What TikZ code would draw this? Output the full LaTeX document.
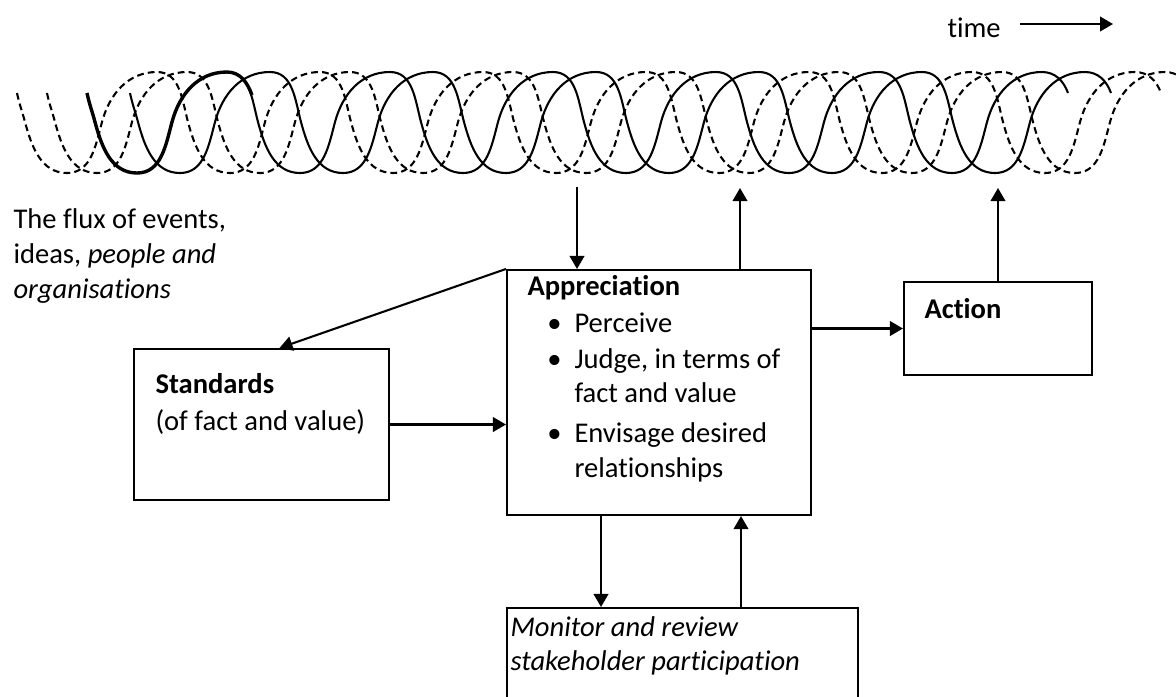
\documentclass[tikz,border=0pt]{standalone}
\usepackage{fontspec}
\setmainfont{Carlito}[Ligatures=NoCommon]
\usepackage{tikz}
\usetikzlibrary{arrows.meta,positioning,fit,calc}

\begin{document}
\begin{tikzpicture}[
  x=0.385pt,y=0.385pt,
  font=\fontsize{11pt}{13.4pt}\selectfont,
  box/.style={draw,line width=0.8pt,inner sep=0pt},
  txt/.style={inner sep=0pt,anchor=base west},
  arr/.style={-{Triangle[length=5pt,width=5.6pt]},line width=0.8pt},
  coil/.style={line width=0.8pt,line join=round},
  dcoil/.style={coil,dash pattern=on 2.6pt off 1.6pt}]

  \useasboundingbox (0,0) rectangle (1176,-696);
  \clip (0,0) rectangle (1176,-696);

  % the flux
  \foreach \bx/\m/\sty in {137/5/coil,180/5/coil,67/6/dcoil,97/6/dcoil}{
    \draw[\sty] ({\bx-50},-93) to[out=-78,in=105] ({\bx-42},-122) to[out=-75,in=180] (\bx,-173)
      foreach \k in {1,...,\m}{
        to[out=0,in=-105] ({\bx+163*\k-128},-122) to[out=75,in=180] ({\bx+163*\k-73},-72)
        to[out=0,in=105] ({\bx+163*\k-42},-122) to[out=-75,in=180] ({\bx+163*\k},-173)}
      to[out=0,in=-105] ({\bx+163*\m+35},-122) to[out=75,in=180] ({\bx+163*\m+90},-72)
      to[out=0,in=110] ({\bx+163*\m+116},-93);
  }
  \draw[coil,line width=1.3pt] (87,-93) to[out=-78,in=105] (95,-122) to[out=-75,in=180] (137,-173)
    to[out=0,in=-105] (172,-122) to[out=75,in=180] (227,-72) to[out=0,in=110] (252,-95);

  \node[txt] (fluxa) at (13,-228) {The flux of events,};
  \node[txt] (fluxb) at (13,-263) {ideas, \textit{people and}};
  \node[txt] (fluxc) at (13,-298) {\textit{organisations}};
  \node[txt] (tm) at (947,-37) {time};

  \node[box,fit={(507,-270) (811,-515)}] (appr) {};
  \node[box,fit={(134,-349) (389,-500)}] (std) {};
  \node[box,fit={(904,-282) (1092,-375)}] (act) {};
  \node[box,fit={(507,-608) (858,-740)}] (mon) {};

  \node[txt] (apprT) at (527,-295) {\textbf{Appreciation}};
  \node[txt] (p1) at (574,-332) {\llap{\textbullet\hspace{5pt}}Perceive};
  \node[txt] (p2) at (574,-368) {\llap{\textbullet\hspace{5pt}}Judge, in terms of};
  \node[txt] (p2b) at (574,-402) {fact and value};
  \node[txt] (p3) at (574,-442) {\llap{\textbullet\hspace{5pt}}Envisage desired};
  \node[txt] (p3b) at (574,-477) {relationships};
  \node[txt] (stdT) at (155,-393) {\textbf{Standards}};
  \node[txt] (stdS) at (155,-430) {(of fact and value)};
  \node[txt] (actT) at (924,-318) {\textbf{Action}};
  \node[txt] (monA) at (510,-636) {\textit{Monitor and review}};
  \node[txt] (monB) at (510,-670) {\textit{stakeholder participation}};

  \coordinate (tA) at (1020,-24);
  \coordinate (tB) at (1113,-24);
  \coordinate (fin) at (577,-187);
  \coordinate (fout) at (740,-188);
  \coordinate (fact) at (998,-188);
  \coordinate (mdown) at (601,-560);
  \coordinate (mup) at (741,-560);

  \draw[arr] (tA) -- (tB);
  \draw[arr] (fin) -- (fin |- appr.north);
  \draw[arr] (fout |- appr.north) -- (fout);
  \draw[arr] (fact |- act.north) -- (fact);
  \draw[arr] (appr.north west) -- ($(std.north)+(18,0)$);
  \draw[arr] (std.east) -- (std.east -| appr.west);
  \draw[arr] (appr.east |- act.west) -- (act.west);
  \draw[arr] (mdown |- appr.south) -- (mdown |- mon.north);
  \draw[arr] (mup |- mon.north) -- (mup |- appr.south);
\end{tikzpicture}
\end{document}
